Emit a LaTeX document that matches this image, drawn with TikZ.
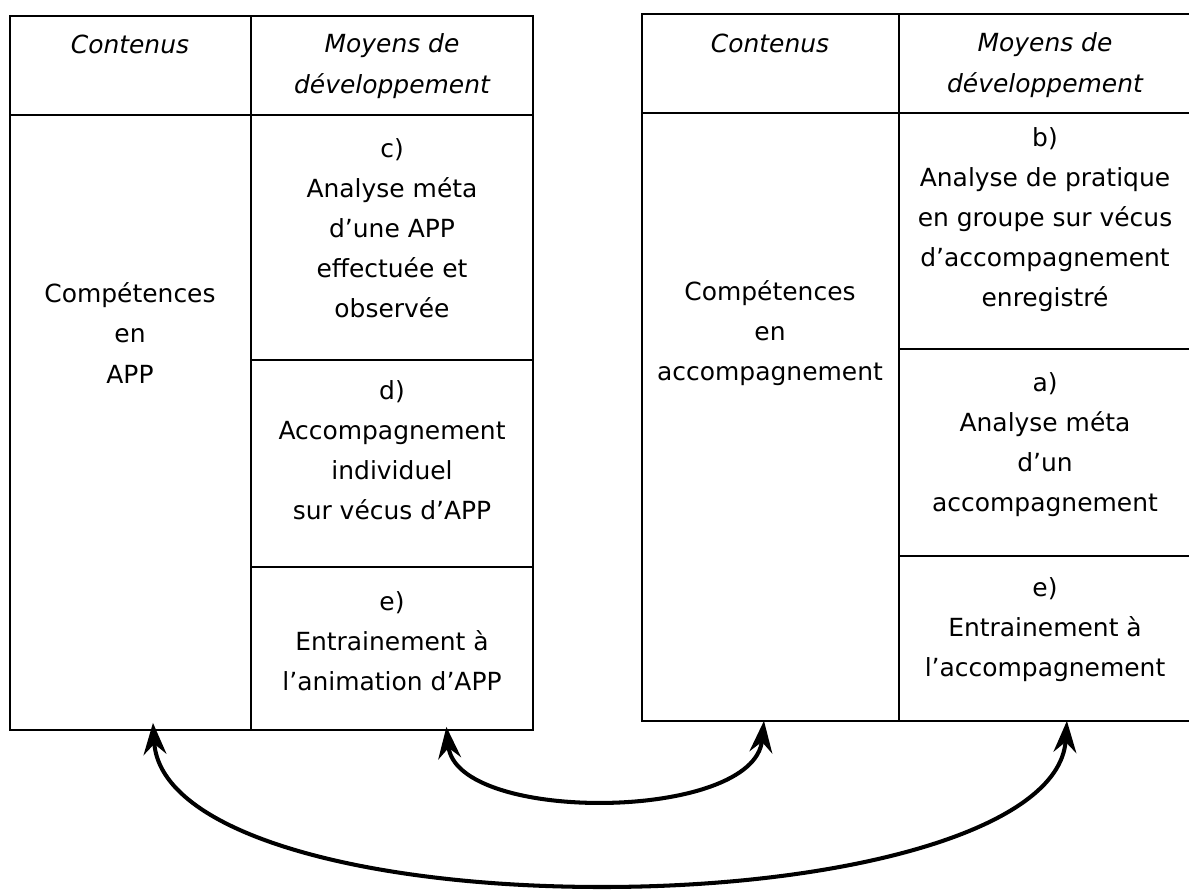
\documentclass[tikz,border=0pt]{standalone}
\usepackage{fontspec}
\setmainfont{DejaVu Sans}
\usetikzlibrary{positioning, arrows.meta}
\tikzstyle{cell}    = [rectangle, draw, line width=1.4pt, outer sep=0pt, inner sep=0pt, minimum width=4.82cm]
\tikzstyle{txt}     = [align=center, inner sep=0pt, font=\fontsize{14.2}{22.8}\selectfont]
\tikzstyle{headtxt} = [txt, font=\fontsize{14.2}{23.6}\selectfont\itshape]
\tikzstyle{link}    = [draw, line width=2.3pt, {Stealth[length=18pt, width=13pt, inset=6pt]}-{Stealth[length=18pt, width=13pt, inset=6pt]}]

\begin{document}
\begin{tikzpicture}[x=0.02cm, y=-0.02cm]
    \useasboundingbox (0,0) rectangle (1189,891);
    % left table
    \node[cell, anchor=north west, minimum height=1.98cm] (lhead1) at (10,16) {};
    \node[cell, right=0pt of lhead1, minimum width=5.64cm, minimum height=1.98cm] (lhead2) {};
    \node[cell, below=0pt of lhead1, minimum height=12.3cm] (lcont) {};
    \node[cell, below=0pt of lhead2, minimum width=5.64cm, minimum height=4.9cm] (lm1) {};
    \node[cell, below=0pt of lm1, minimum width=5.64cm, minimum height=4.14cm] (lm2) {};
    \node[cell, below=0pt of lm2, minimum width=5.64cm, minimum height=3.26cm] (lm3) {};
    % right table
    \node[cell, anchor=north west, minimum width=5.14cm, minimum height=1.98cm] (rhead1) at (642,14) {};
    \node[cell, right=0pt of rhead1, minimum width=5.86cm, minimum height=1.98cm] (rhead2) {};
    \node[cell, below=0pt of rhead1, minimum width=5.14cm, minimum height=12.16cm] (rcont) {};
    \node[cell, below=0pt of rhead2, minimum width=5.86cm, minimum height=4.72cm] (rm1) {};
    \node[cell, below=0pt of rm1, minimum width=5.86cm, minimum height=4.14cm] (rm2) {};
    \node[cell, below=0pt of rm2, minimum width=5.86cm, minimum height=3.3cm] (rm3) {};

    \node[headtxt] (tlhead1) at (130,44) {Contenus};
    \node[headtxt] (tlhead2) at (392,66) {Moyens de\\développement};
    \node[txt] (tlcont) at (130,333) {Compétences\\en\\APP};
    \node[txt] (tlm1) at (392,228) {c)\\Analyse méta\\d’une APP\\effectuée et\\observée};
    \node[txt] (tlm2) at (392,450) {d)\\Accompagnement\\individuel\\sur vécus d’APP};
    \node[txt] (tlm3) at (392,641) {e)\\Entrainement à\\l’animation d’APP};

    \node[headtxt] (trhead1) at (770,43) {Contenus};
    \node[headtxt] (trhead2) at (1045,65) {Moyens de\\développement};
    \node[txt] (trcont) at (770,333) {Compétences\\en\\accompagnement};
    \node[txt] (trm1) at (1045,220) {b)\\Analyse de pratique\\en groupe sur vécus\\d’accompagnement\\enregistré};
    \node[txt] (trm2) at (1045,445) {a)\\Analyse méta\\d’un\\accompagnement};
    \node[txt] (trm3) at (1045,630) {e)\\Entrainement à\\l’accompagnement};

    % links between the tables
    \coordinate (low) at (602,887);
    \path[link] ([xshift=0.45cm, yshift=0.14cm]lcont.south) .. controls +(7,110) and +(-240,0) .. (low)
        .. controls +(240,0) and +(-7,110) .. ([xshift=0.43cm]rm3.south);
    \path[link] ([xshift=1.09cm, yshift=0.06cm]lm3.south) .. controls +(10,97) and +(-10,101) .. ([xshift=-0.13cm]rcont.south);
\end{tikzpicture}
\end{document}
